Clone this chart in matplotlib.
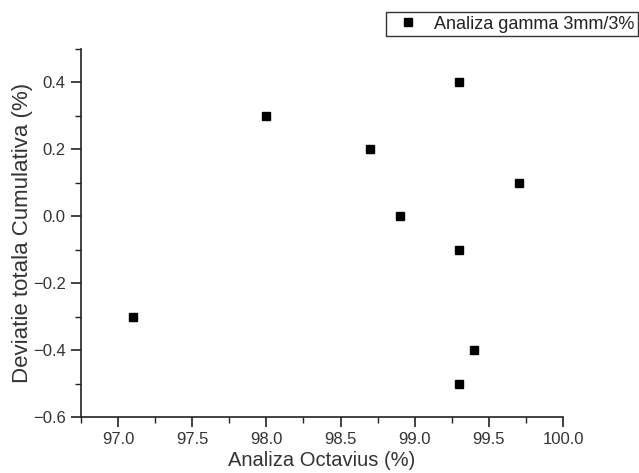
import matplotlib
matplotlib.use("Agg")
import matplotlib.pyplot as plt
from matplotlib.ticker import MultipleLocator

plt.rcParams['font.family'] = ['Liberation Sans', 'DejaVu Sans']

# Analiza Octavius (%) vs deviatie totala cumulativa (%)
octavius = [97.1, 98.0, 98.7, 98.9, 99.3, 99.3, 99.3, 99.4, 99.7]
deviatie = [-0.3, 0.3, 0.2, 0.0, 0.4, -0.1, -0.5, -0.4, 0.1]
series_label = "Analiza gamma 3mm/3%"

W, H = 639, 473
fig = plt.figure(figsize=(W / 100, H / 100), dpi=100)
ax = fig.add_axes([81 / W, (H - 417) / H, (563 - 81) / W, (417 - 49) / H])

ax.plot(octavius, deviatie, linestyle='none', marker='s', markersize=5.5,
        color='black', label=series_label)

ax.set_xlim(96.75, 100.0)
ax.set_ylim(-0.6, 0.5)
ax.xaxis.set_major_locator(MultipleLocator(0.5))
ax.xaxis.set_minor_locator(MultipleLocator(0.25))
ax.yaxis.set_major_locator(MultipleLocator(0.2))
ax.yaxis.set_minor_locator(MultipleLocator(0.1))
ax.xaxis.set_major_formatter(plt.FuncFormatter(lambda v, p: f"{v:.1f}"))
ax.yaxis.set_major_formatter(plt.FuncFormatter(lambda v, p: f"{v:.1f}".replace("-", "\u2212")))

for s in ('top', 'right'):
    ax.spines[s].set_visible(False)
for s in ('left', 'bottom'):
    ax.spines[s].set_linewidth(1.2)
    ax.spines[s].set_color('#222222')

ax.tick_params(which='major', direction='out', length=7, width=1.2, color='#222222',
               labelsize=12, labelcolor='#333333', pad=4)
ax.tick_params(which='minor', direction='out', length=4, width=1.0, color='#222222')

ax.set_xlabel("Analiza Octavius (%)", fontsize=14.5, color='#333333', va='top')
ax.set_ylabel("Deviatie totala Cumulativa (%)", fontsize=16, color='#333333')
ax.xaxis.set_label_coords(0.5, -0.092)
ax.yaxis.set_label_coords(-0.1, 0.5)

leg = fig.legend(loc='upper right', bbox_to_anchor=(638 / W, 1 - 12 / H),
                 fancybox=False, frameon=True, edgecolor='black', fontsize=13,
                 handlelength=2.0, handletextpad=0.45, borderpad=0.2,
                 borderaxespad=0)
leg.get_frame().set_linewidth(1.0)
for t in leg.get_texts():
    t.set_color('#222222')

fig.savefig("out.png", dpi=100)
